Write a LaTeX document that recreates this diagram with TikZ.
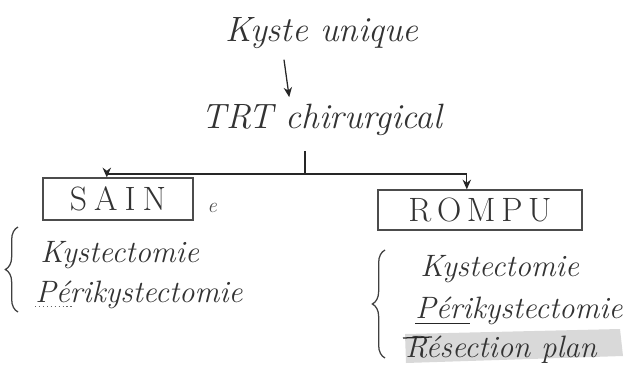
\documentclass[tikz,border=0pt]{standalone}
\usepackage{tikz}
\usetikzlibrary{decorations.pathreplacing,arrows.meta}
\tikzset{
  title/.style={font=\itshape\fontsize{25}{27}\selectfont,text=black!80,inner sep=2pt},
  item/.style={font=\itshape\fontsize{22}{24}\selectfont,text=black!80,anchor=base west,inner sep=0pt},
  box/.style={draw=black!70,line width=0.8pt,font=\fontsize{24}{26}\selectfont,text=black!80},
  link/.style={draw=black!85,line width=0.9pt},
  arr/.style={link,-{Stealth[length=7pt,width=6pt]}},
  curly/.style={decorate,decoration={brace,amplitude=9pt},draw=black!75,line width=0.9pt}
}
\begin{document}
\begin{tikzpicture}[x=0.025cm,y=-0.025cm]
\useasboundingbox (0,0) rectangle (638,376);

\node[title] (kyste) at (322,33) {Kyste unique};
\node[title] (trt) at (322,120) {TRT chirurgical};
\draw[arr] ([xshift=-0.95cm,yshift=-0.2cm]kyste.south) -- ([xshift=-0.82cm,yshift=0.1cm]trt.north);

\node[box,minimum width=3.75cm,minimum height=1.05cm] (sain) at (118,199) {S\hspace{5pt}A\hspace{5pt}I\hspace{5pt}N};
\node[font=\itshape\fontsize{15}{15}\selectfont,text=black!70] (mark) at (212,208) {e};
\node[box,minimum width=5.1cm,minimum height=1cm] (rompu) at (480,210) {R\hspace{4pt}O\hspace{4pt}M\hspace{4pt}P\hspace{4pt}U};

% branches
\coordinate (fork) at (305,174);
\draw[link] ([yshift=-0.3cm]trt.south -| fork) -- (fork);
\draw[arr] (fork) -| ([xshift=-0.28cm]sain.north);
\draw[arr] (fork) -| ([xshift=-0.33cm]rompu.north);

% sain
\node[item] (k1) at (40,262) {Kystectomie};
\node[item] (p1) at (35,302) {Périkystectomie};
\draw[curly] (18,312) -- (18,227);
\draw[black!60,dotted,line width=0.8pt] ([yshift=-3pt]p1.base west) -- ++(38,0);

% rompu
\fill[gray!30] (405,334) -- (620,329) -- (623,356) -- (406,363) -- cycle;
\node[item] (k2) at (420,276) {Kystectomie};
\node[item] (p2) at (415,318) {Périkystectomie};
\node[item] (r2) at (405,357) {Résection plan};
\draw[curly] (385,358) -- (385,250);
\draw[link] ([yshift=-4pt]p2.base west) -- ++(55,0);
\draw[link] (403,338) -- (432,337);
\end{tikzpicture}
\end{document}
